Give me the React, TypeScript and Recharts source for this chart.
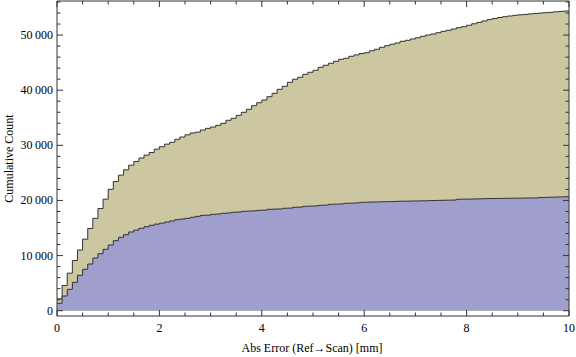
import { ComposedChart, Area, XAxis, YAxis, ReferenceLine } from "recharts";

// left edge of each 0.1 mm bin
const binStarts = [
  0, 0.1, 0.2, 0.3, 0.4, 0.5, 0.6, 0.7, 0.8, 0.9,
  1, 1.1, 1.2, 1.3, 1.4, 1.5, 1.6, 1.7, 1.8, 1.9,
  2, 2.1, 2.2, 2.3, 2.4, 2.5, 2.6, 2.7, 2.8, 2.9,
  3, 3.1, 3.2, 3.3, 3.4, 3.5, 3.6, 3.7, 3.8, 3.9,
  4, 4.1, 4.2, 4.3, 4.4, 4.5, 4.6, 4.7, 4.8, 4.9,
  5, 5.1, 5.2, 5.3, 5.4, 5.5, 5.6, 5.7, 5.8, 5.9,
  6, 6.1, 6.2, 6.3, 6.4, 6.5, 6.6, 6.7, 6.8, 6.9,
  7, 7.1, 7.2, 7.3, 7.4, 7.5, 7.6, 7.7, 7.8, 7.9,
  8, 8.1, 8.2, 8.3, 8.4, 8.5, 8.6, 8.7, 8.8, 8.9,
  9, 9.1, 9.2, 9.3, 9.4, 9.5, 9.6, 9.7, 9.8, 9.9,
];
const lastEdge = 10;

// cumulative count, all points
const allCounts = [
  2150, 4570, 6810, 9110, 11010, 12980, 14920, 16760, 18540, 20230,
  22020, 23440, 24590, 25550, 26400, 27070, 27700, 28220, 28700, 29300,
  29750, 30210, 30550, 31090, 31500, 31900, 32230, 32400, 32780, 33080,
  33320, 33630, 33990, 34540, 34900, 35440, 35990, 36530, 37190, 37730,
  38220, 38820, 39440, 40160, 40710, 41430, 41980, 42340, 42880, 43250,
  43610, 44150, 44520, 44880, 45240, 45600, 45790, 46150, 46400, 46650,
  46800, 47160, 47420, 47780, 48070, 48330, 48560, 48870, 49050, 49290,
  49520, 49780, 50010, 50190, 50430, 50680, 50860, 51100, 51340, 51520,
  51780, 52050, 52300, 52560, 52800, 53000, 53180, 53330, 53460, 53580,
  53670, 53740, 53840, 53920, 53990, 54060, 54120, 54220, 54290, 54360,
];

// cumulative count, subset
const subsetCounts = [
  1340, 2670, 3880, 5150, 6420, 7510, 8470, 9560, 10340, 11140,
  11920, 12700, 13310, 13790, 14280, 14640, 14950, 15240, 15490, 15710,
  15880, 16090, 16270, 16510, 16630, 16760, 16940, 17120, 17300, 17330,
  17490, 17530, 17670, 17720, 17850, 17900, 18030, 18070, 18110, 18210,
  18250, 18390, 18420, 18450, 18580, 18610, 18760, 18790, 18940, 18970,
  19000, 19120, 19150, 19300, 19330, 19360, 19480, 19510, 19540, 19660,
  19690, 19710, 19730, 19760, 19780, 19800, 19840, 19860, 19880, 19900,
  19910, 19930, 19960, 19990, 20010, 20030, 20050, 20070, 20210, 20230,
  20250, 20270, 20290, 20320, 20340, 20350, 20370, 20380, 20400, 20410,
  20420, 20440, 20450, 20460, 20520, 20550, 20580, 20610, 20640, 20670,
];

const xTicks = [0, 0.5, 1, 1.5, 2, 2.5, 3, 3.5, 4, 4.5, 5, 5.5, 6, 6.5, 7, 7.5, 8, 8.5, 9, 9.5, 10];
const xLabelled = [0, 2, 4, 6, 8, 10];
const yTicks = [
  0, 2000, 4000, 6000, 8000, 10000, 12000, 14000, 16000, 18000, 20000,
  22000, 24000, 26000, 28000, 30000, 32000, 34000, 36000, 38000, 40000,
  42000, 44000, 46000, 48000, 50000, 52000, 54000, 56000,
];
const yLabelled = [0, 10000, 20000, 30000, 40000, 50000];

const data = binStarts.map((x, i) => ({ x, all: allCounts[i], subset: subsetCounts[i] }));
data.push({ x: lastEdge, all: allCounts[allCounts.length - 1], subset: subsetCounts[subsetCounts.length - 1] });

const W = 576;
const H = 357;
const LEFT = 57;
const RIGHT = 569;
const TOP = 1;
const BOTTOM = 316;
const Y_MIN = -960;
const Y_MAX = 56180;
const FONT = "'Liberation Serif', 'Times New Roman', serif";
const INK = "#333333";

const fmt = (v: number) => String(v).replace(/\B(?=(\d{3})+(?!\d))/g, "\u2009");

function YTick(props: any) {
  const { y, payload } = props;
  const v = payload.value as number;
  const major = yLabelled.includes(v);
  const len = major ? 6 : 3.5;
  return (
    <g>
      <line x1={LEFT} x2={LEFT + len} y1={y} y2={y} stroke={INK} />
      <line x1={RIGHT} x2={RIGHT - len} y1={y} y2={y} stroke={INK} />
      {major && (
        <text x={53} y={y} dy={4} textAnchor="end" fontFamily={FONT} fontSize={12} fill="#000">
          {fmt(v)}
        </text>
      )}
    </g>
  );
}

function XTick(props: any) {
  const { x, payload } = props;
  const v = payload.value as number;
  const major = xLabelled.includes(v);
  const len = major ? 6 : 3.5;
  return (
    <g>
      <line x1={x} x2={x} y1={BOTTOM} y2={BOTTOM - len} stroke={INK} />
      <line x1={x} x2={x} y1={TOP} y2={TOP + len} stroke={INK} />
      {major && (
        <text x={x} y={331.5} textAnchor="middle" fontFamily={FONT} fontSize={12} fill="#000">
          {v}
        </text>
      )}
    </g>
  );
}

function App() {
  return (
    <div style={{ position: "absolute", left: 0, top: 0, width: W, height: H, background: "#fff" }}>
      <ComposedChart
        width={W}
        height={H}
        data={data}
        margin={{ top: TOP, right: W - RIGHT, bottom: 0, left: 0 }}
      >
        <Area
          type="stepAfter"
          dataKey="all"
          fill="#ccc7a1"
          fillOpacity={1}
          stroke={INK}
          strokeWidth={1}
          isAnimationActive={false}
          dot={false}
          activeDot={false}
        />
        <Area
          type="stepAfter"
          dataKey="subset"
          fill="#a09ecc"
          fillOpacity={1}
          stroke={INK}
          strokeWidth={1}
          isAnimationActive={false}
          dot={false}
          activeDot={false}
        />
        <ReferenceLine y={Y_MAX} stroke={INK} ifOverflow="extendDomain" />
        <ReferenceLine x={10} stroke={INK} />
        <XAxis
          dataKey="x"
          type="number"
          domain={[0, 10]}
          ticks={xTicks}
          interval={0}
          height={BOTTOM === 316 ? H - BOTTOM : 41}
          axisLine={{ stroke: INK }}
          tickLine={false}
          tick={<XTick />}
          label={{
            content: () => (
              <text x={312} y={352} textAnchor="middle" fontFamily={FONT} fontSize={12} fill="#000">
                Abs Error (Ref→Scan) [mm]
              </text>
            ),
          }}
        />
        <YAxis
          type="number"
          domain={[Y_MIN, Y_MAX]}
          ticks={yTicks}
          interval={0}
          width={LEFT}
          allowDataOverflow
          axisLine={{ stroke: INK }}
          tickLine={false}
          tick={<YTick />}
          label={{
            content: () => (
              <text
                x={12.5}
                y={158.5}
                transform="rotate(-90 12.5 158.5)"
                textAnchor="middle"
                fontFamily={FONT}
                fontSize={12}
                fill="#000"
              >
                Cumulative Count
              </text>
            ),
          }}
        />
      </ComposedChart>
    </div>
  );
}

export default App;
